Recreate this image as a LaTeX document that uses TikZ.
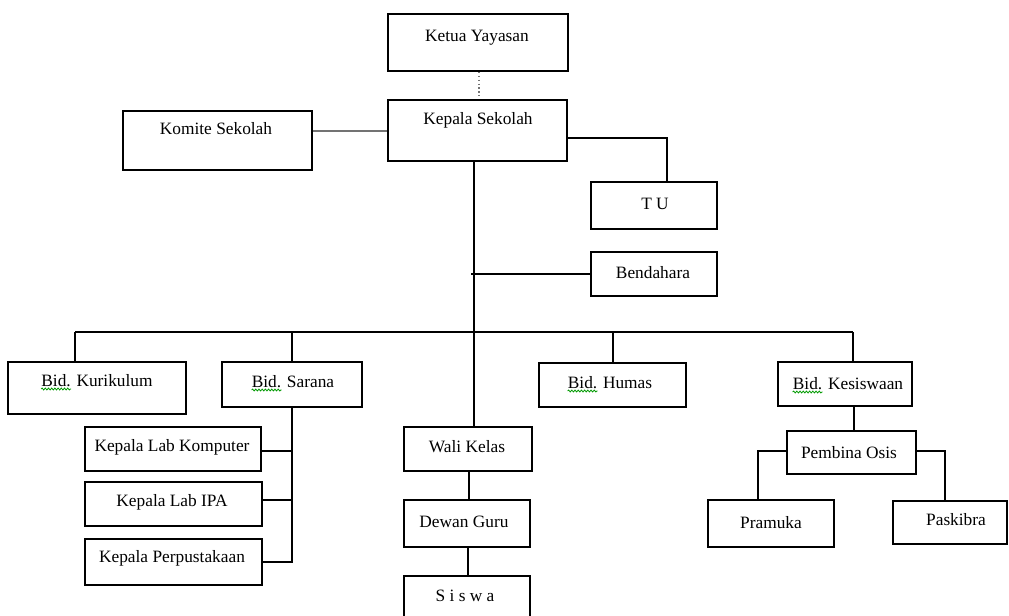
\documentclass[tikz,border=0pt]{standalone}
\usepackage{fontspec}
\setmainfont{Liberation Serif}
\usetikzlibrary{calc,fit,decorations.pathmorphing}
\tikzset{
  box/.style={draw, line width=1.5pt, inner sep=0pt},
  txt/.style={font=\fontsize{13}{15}\selectfont, inner sep=0pt, anchor=base},
  conn/.style={line width=1.5pt},
  thinconn/.style={line width=1.1pt, draw=black!55},
  dotconn/.style={line width=0.9pt, draw=black!55, dotted},
  squig/.style={draw=green!60!black, line width=0.6pt, decorate,
    decoration={snake, amplitude=0.7pt, segment length=2.4pt}},
}
\newcommand\orgbox[5]{%
  \path (#2,#3) coordinate (#1-nw) (#4,#5) coordinate (#1-se);
  \node[box, fit=(#1-nw)(#1-se)] (#1) {};}
\begin{document}
\begin{tikzpicture}[x=0.75pt, y=-0.75pt]
\clip (0,0) rectangle (1009,615);
\useasboundingbox (0,0) rectangle (1009,615);

% boxes
\orgbox{ky}{388}{14}{568}{71}
\orgbox{ks}{388}{100}{567}{161}
\orgbox{km}{123}{111}{312}{170}
\orgbox{tu}{591}{182}{717}{229}
\orgbox{bd}{591}{252}{717}{296}
\orgbox{kur}{8}{362}{186}{414}
\orgbox{sar}{222}{362}{362}{407}
\orgbox{lk}{85}{427}{261}{471}
\orgbox{li}{85}{482}{262}{526}
\orgbox{lp}{85}{539}{262}{585}
\orgbox{wk}{404}{427}{532}{471}
\orgbox{dg}{404}{500}{530}{547}
\orgbox{sw}{404}{576}{530}{630}
\orgbox{hm}{539}{363}{686}{407}
\orgbox{kes}{778}{362}{912}{406}
\orgbox{po}{787}{431}{916}{474}
\orgbox{pr}{708}{500}{834}{547}
\orgbox{pk}{893}{501}{1007}{544}

% texts
\node[txt] (ky-t) at (477,41) {Ketua Yayasan};
\node[txt] (ks-t) at (478,124) {Kepala Sekolah};
\node[txt] (km-t) at (216,134) {Komite Sekolah};
\node[txt] (tu-t) at (655,209) {T U};
\node[txt] (bd-t) at (653,278) {Bendahara};
\node[txt] (kur-t) at (97,386) {Bid. Kurikulum};
\node[txt] (sar-t) at (293,387) {Bid. Sarana};
\node[txt] (lk-t) at (172,451) {Kepala Lab Komputer};
\node[txt] (li-t) at (172,506) {Kepala Lab IPA};
\node[txt] (lp-t) at (172,562) {Kepala Perpustakaan};
\node[txt] (wk-t) at (467,452) {Wali Kelas};
\node[txt] (dg-t) at (464,527) {Dewan Guru};
\node[txt] (sw-t) at (465,601) {S i s w a};
\node[txt] (hm-t) at (610,388) {Bid. Humas};
\node[txt] (kes-t) at (848,389) {Bid. Kesiswaan};
\node[txt] (po-t) at (849,458) {Pembina Osis};
\node[txt] (pr-t) at (771,528) {Pramuka};
\node[txt] (pk-t) at (956,525) {Paskibra};

% spell-check squiggles under "Bid."
\foreach \n in {kur-t,sar-t,hm-t,kes-t}{
  \draw[squig] ($(\n.base west)+(0,3)$) -- ++(30,0);
}

% connectors
\draw[dotconn] (ky.south -| 479,0) -- (ks.north -| 479,0);
\draw[thinconn] (km.east |- 0,131) -- (ks.west |- 0,131);
\draw[conn] (ks.east |- 0,138) -| (tu.north -| 667,0);
\coordinate (busL) at (75,332);
\coordinate (busR) at (853,332);
\draw[conn] (ks.south -| 474,0) -- (wk.north -| 474,0);
\draw[conn] (471,274) -- (bd.west |- 0,274);
\draw[conn] (busL) -- (busR);
\draw[conn] (busL) -- (kur.north -| busL);
\draw[conn] (sar.north |- busL) -- (sar.north);
\draw[conn] (hm.north |- busL) -- (hm.north);
\draw[conn] (busR) -- (kes.north -| busR);
\draw[conn] (sar.south) -- (sar.south |- 0,562) -- (lp.east |- 0,562);
\draw[conn] (lk.east |- 0,451) -- (sar.south |- 0,451);
\draw[conn] (li.east |- 0,500) -- (sar.south |- 0,500);
\draw[conn] (wk.south -| 469,0) -- (dg.north -| 469,0);
\draw[conn] (dg.south -| 468,0) -- (sw.north -| 468,0);
\draw[conn] (kes.south -| 854,0) -- (po.north -| 854,0);
\draw[conn] (po.west |- 0,451) -| (pr.north -| 758,0);
\draw[conn] (po.east |- 0,451) -| (pk.north -| 945,0);
\end{tikzpicture}
\end{document}
